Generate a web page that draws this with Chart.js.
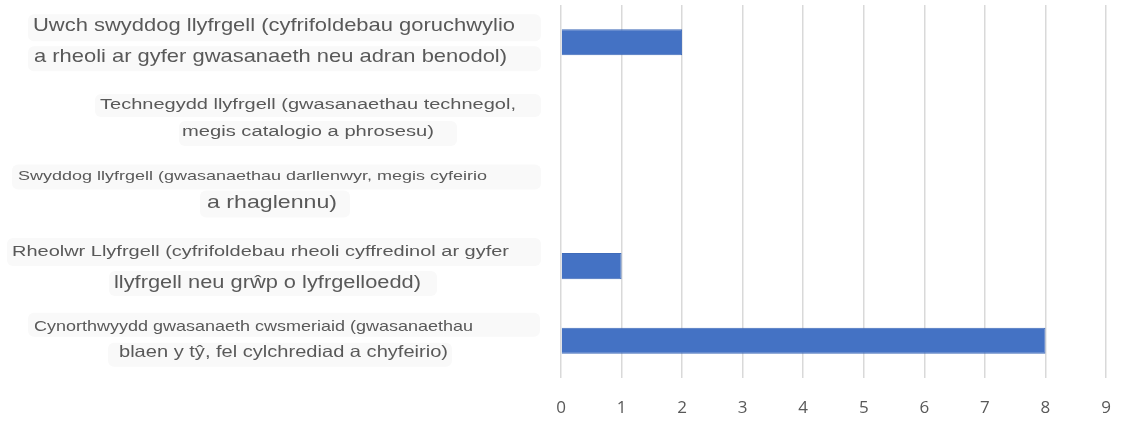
<!DOCTYPE html>
<html>
<head>
<meta charset="utf-8">
<script src="https://cdn.jsdelivr.net/npm/chart.js@4"></script>
<style>
    body { margin: 0; background: #ffffff; }
    #wrap { width: 1133px; height: 422px; }
</style>
</head>
<body>
<div id="wrap"><canvas id="myBarChart" width="1133" height="422"></canvas></div>
<script>
    // categorias (duas linhas cada), de cima para baixo
    const categories = [
        ["Uwch swyddog llyfrgell (cyfrifoldebau goruchwylio", "a rheoli ar gyfer gwasanaeth neu adran benodol)"],
        ["Technegydd llyfrgell (gwasanaethau technegol,", "megis catalogio a phrosesu)"],
        ["Swyddog llyfrgell (gwasanaethau darllenwyr, megis cyfeirio", "a rhaglennu)"],
        ["Rheolwr Llyfrgell (cyfrifoldebau rheoli cyffredinol ar gyfer", "llyfrgell neu grŵp o lyfrgelloedd)"],
        ["Cynorthwyydd gwasanaeth cwsmeriaid (gwasanaethau", "blaen y tŷ, fel cylchrediad a chyfeirio)"]
    ];
    const values = [2, 0, 0, 1, 8];
    const axisMin = 0;
    const axisMax = 9;

    // estilo de cada linha do rótulo: tamanho, x do texto, caixa, desvio vertical
    const lineStyle = [
        [{size: 18.5, x0: 33, x1: 515, dy: -16, bx0: 28, bx1: 541, bt: -28, bb: -1},
         {size: 18.5, x0: 34, x1: 507, dy: 15, bx0: 28, bx1: 541, bt: 4, bb: 29}],
        [{size: 15.5, x0: 100, x1: 516, dy: -12.5, bx0: 95, bx1: 541, bt: -23, bb: 0},
         {size: 15.5, x0: 182, x1: 434, dy: 14.5, bx0: 179, bx1: 457, bt: 4, bb: 29}],
        [{size: 13.5, x0: 18, x1: 487, dy: -15, bx0: 12, bx1: 541, bt: -27, bb: -2},
         {size: 18.5, x0: 207, x1: 337, dy: 11, bx0: 200, bx1: 350, bt: -1, bb: 26}],
        [{size: 15.5, x0: 12, x1: 509, dy: -14, bx0: 7, bx1: 541, bt: -28, bb: 0},
         {size: 17.5, x0: 114, x1: 421, dy: 17, bx0: 109, bx1: 437, bt: 5, bb: 30}],
        [{size: 14.5, x0: 34, x1: 473, dy: -14, bx0: 28, bx1: 540, bt: -28, bb: -4},
         {size: 16.5, x0: 119, x1: 448, dy: 12, bx0: 108, bx1: 452, bt: 2, bb: 26}]
    ];

    const labelPlugin = {
        id: 'twoLineLabels',
        afterDraw: function (chart) {
            let ctx = chart.ctx;
            let yScale = chart.scales.y;
            categories.forEach(function (lines, i) {
                let yc = yScale.getPixelForValue(i);
                lines.forEach(function (text, j) {
                    let s = lineStyle[i][j];
                    ctx.save();
                    // caixa de fundo
                    ctx.fillStyle = '#f9f9f9';
                    ctx.beginPath();
                    ctx.roundRect(s.bx0, yc + s.bt, s.bx1 - s.bx0, s.bb - s.bt, 6);
                    ctx.fill();
                    // texto
                    ctx.font = s.size + 'px "Liberation Sans", Arial, sans-serif';
                    let w = ctx.measureText(text).width;
                    ctx.translate(s.x0, yc + s.dy);
                    ctx.scale((s.x1 - s.x0) / w, 1);
                    ctx.fillStyle = '#595959';
                    ctx.textBaseline = 'middle';
                    ctx.fillText(text, 0, 0);
                    ctx.restore();
                });
            });
        }
    };

    let ctx = document.getElementById("myBarChart").getContext("2d");

    let myBarChart = new Chart(ctx, {
        type: 'bar',
        data: {
            labels: categories,
            datasets: [{
                data: values,
                backgroundColor: "#4472C4",
                borderColor: "#3F6BB9",
                borderWidth: 1,
                barPercentage: 0.35,
                categoryPercentage: 1
            }]
        },
        options: {
            indexAxis: 'y',
            responsive: false,
            devicePixelRatio: 1,
            animation: false,
            layout: {
                padding: {top: 5, right: 27, left: 0, bottom: 0}
            },
            plugins: {
                legend: {display: false},
                tooltip: {enabled: false}
            },
            scales: {
                y: {
                    ticks: {display: false},
                    grid: {display: false},
                    border: {display: false},
                    afterFit: function (scale) {
                        scale.width = 561;
                    }
                },
                x: {
                    min: axisMin,
                    max: axisMax,
                    ticks: {
                        stepSize: 1,
                        color: '#595959',
                        padding: 20,
                        font: {family: '"Open Sans", sans-serif', size: 17}
                    },
                    grid: {
                        color: '#d9d9d9',
                        lineWidth: 1.5,
                        drawTicks: false
                    },
                    border: {display: false},
                    afterFit: function (scale) {
                        scale.height = 44;
                    }
                }
            }
        },
        plugins: [labelPlugin]
    });
</script>
</body>
</html>
